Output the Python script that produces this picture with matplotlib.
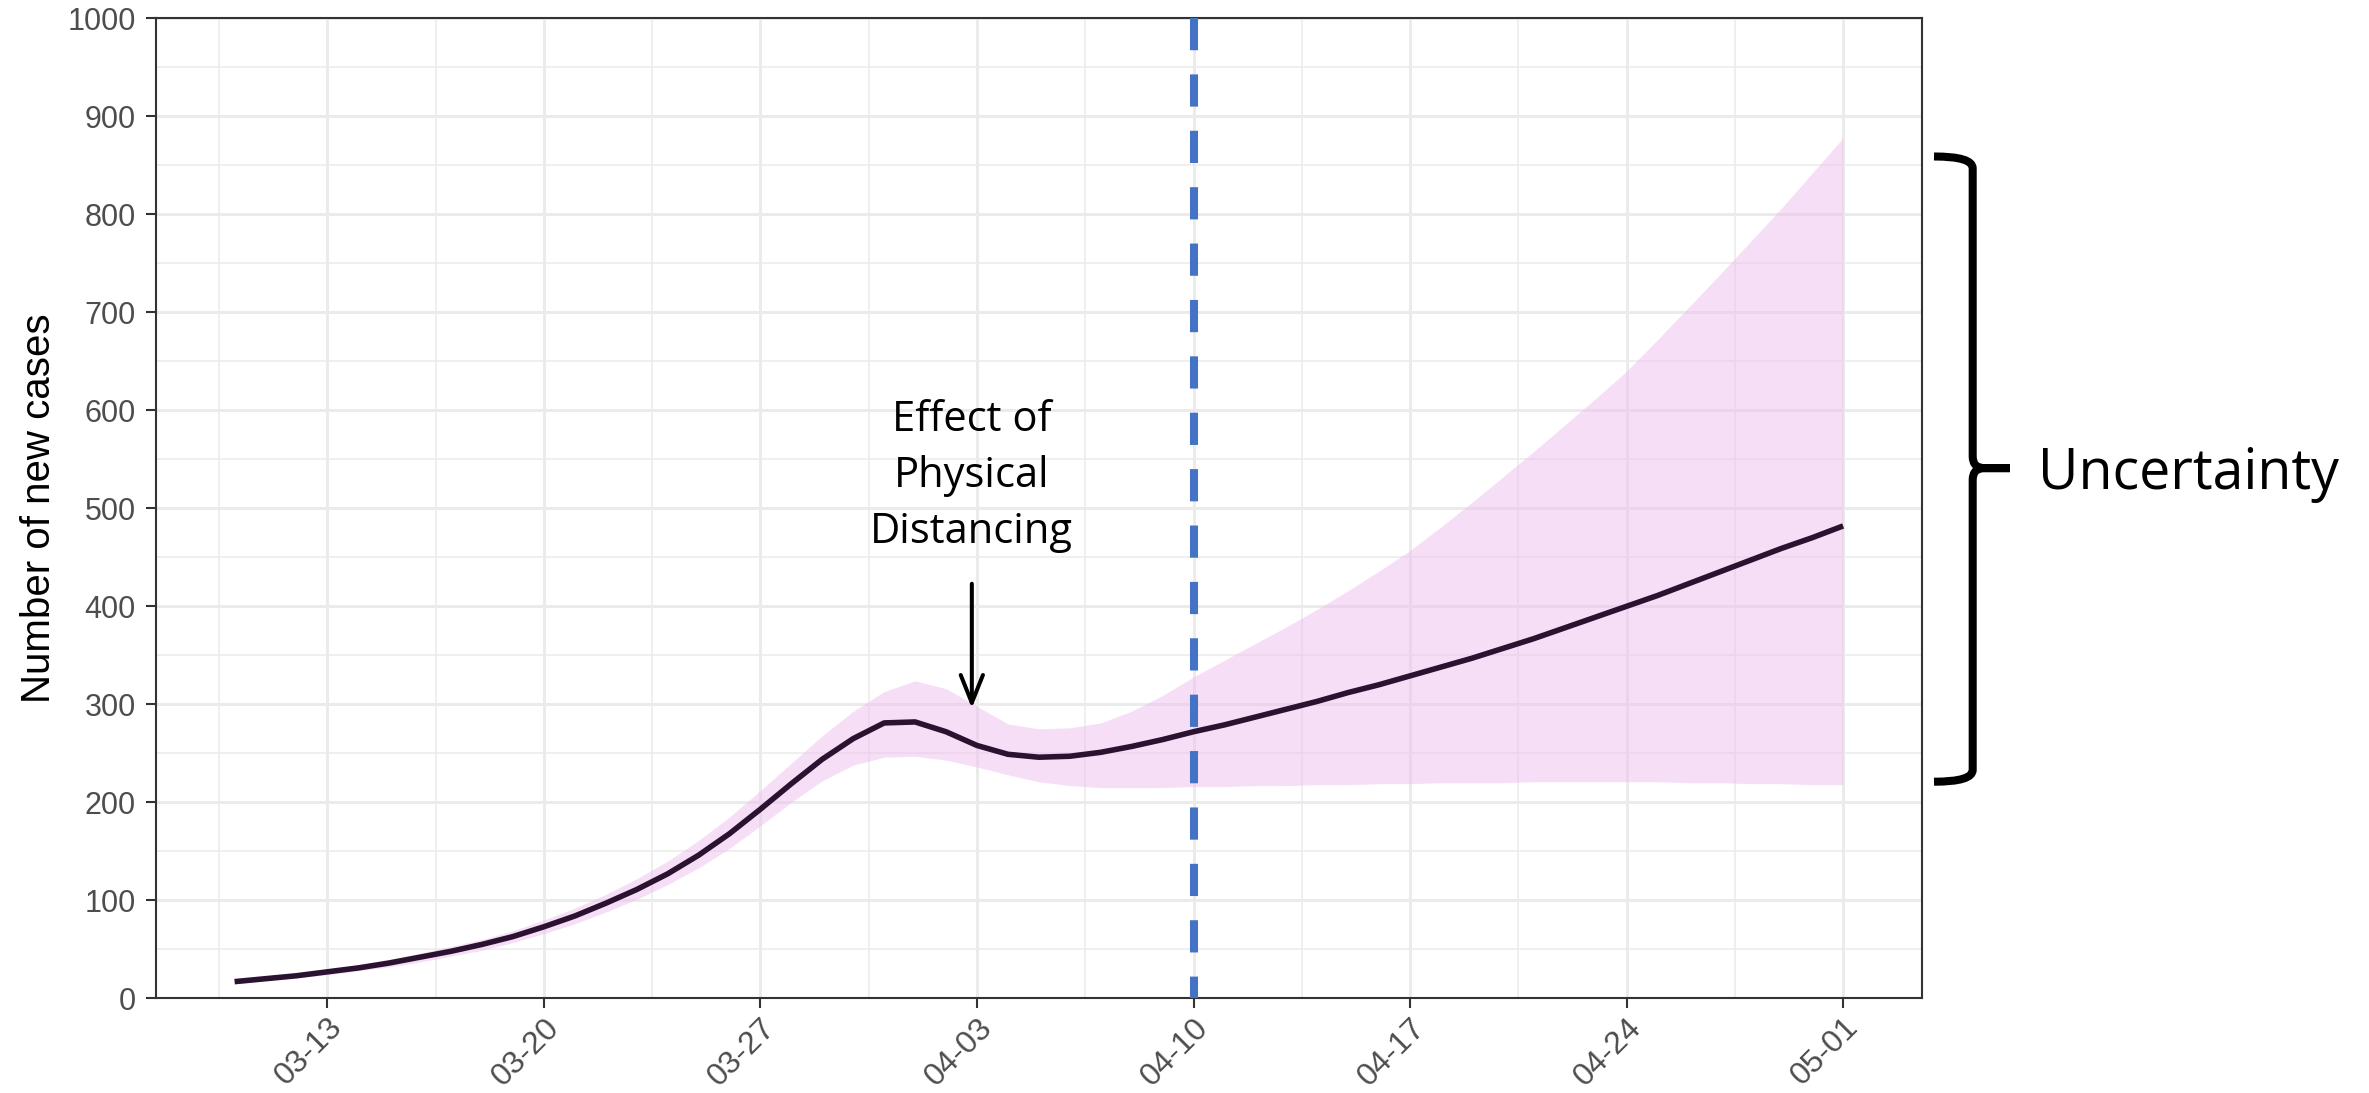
import numpy as np
import pandas as pd
import matplotlib
matplotlib.use("Agg")
import matplotlib.pyplot as plt
import matplotlib.dates as mdates
from matplotlib.path import Path
from matplotlib.patches import PathPatch
from matplotlib.transforms import blended_transform_factory

# ---------------------------------------------------------------------------
# data
# ---------------------------------------------------------------------------
dates = pd.date_range("2020-03-10", "2020-05-01", freq="D")

mean_cases = [
    17, 20, 23, 27, 31, 36, 42, 48, 55, 63,
    73, 84, 97, 111, 127, 146, 168, 193, 219, 244,
    265, 281, 282, 272, 258, 249, 246, 247, 251, 257,
    264, 272, 279, 287, 295, 303, 312, 320, 329, 338,
    347, 357, 367, 378, 389, 400, 411, 423, 435, 447,
    459, 470, 482,
]
upper_cases = [
    19, 22, 26, 30, 34, 40, 46, 53, 60, 69,
    80, 92, 106, 122, 140, 161, 185, 212, 240, 268,
    293, 313, 324, 316, 298, 280, 275, 276, 281, 293,
    309, 328, 345, 362, 379, 397, 416, 436, 457, 481,
    506, 532, 558, 585, 612, 640, 672, 705, 738, 772,
    806, 842, 878,
]
lower_cases = [
    15, 18, 21, 24, 28, 32, 37, 43, 49, 57,
    66, 76, 88, 101, 116, 133, 153, 176, 200, 222,
    238, 246, 247, 243, 236, 228, 221, 217, 215, 215,
    215, 216, 216, 217, 217, 218, 218, 219, 219, 220,
    220, 220, 221, 221, 221, 221, 221, 220, 220, 219,
    219, 218, 218,
]

cutoff_date = pd.Timestamp("2020-04-10")
effect_date = pd.Timestamp("2020-04-02 20:00")
arrow_tail, arrow_tip = 423, 296
effect_text_top = 612
brace_top, brace_mid, brace_bottom = 859, 541, 221

x_major = pd.date_range("2020-03-13", "2020-05-01", freq="7D")
x_minor = pd.date_range("2020-03-09 12:00", "2020-05-01", freq="7D")
y_major = np.arange(0, 1001, 100)
y_minor = np.arange(50, 1000, 100)

# ---------------------------------------------------------------------------
W, H = 2369, 1093
fig = plt.figure(figsize=(W / 100, H / 100), dpi=100)
ax = fig.add_axes([155.7 / W, (H - 998.3) / H, 1766.3 / W, 980.0 / H])

grid_c = "#EBEBEB"
dark = "#333333"

ax.fill_between(dates, lower_cases, upper_cases, color="#EEC0EE", alpha=0.5,
                lw=0, zorder=2)
ax.plot(dates, mean_cases, color="#2B1230", lw=4.0, zorder=3,
        solid_capstyle="butt")
ax.plot([cutoff_date, cutoff_date], [1000, 0], color="#4472C4", lw=5.8,
        dashes=(4, 3), solid_capstyle="butt", dash_capstyle="butt", zorder=4)

pad_days = pd.Timedelta(days=2.55)
ax.set_xlim(dates[0] - pad_days, dates[-1] + pad_days)
ax.set_ylim(0, 1000)

ax.set_xticks(x_major)
ax.set_xticks(x_minor, minor=True)
ax.xaxis.set_major_formatter(mdates.DateFormatter("%m-%d"))
ax.set_yticks(y_major)
ax.set_yticks(y_minor, minor=True)

ax.set_axisbelow(True)
ax.grid(which="major", color=grid_c, lw=2.1)
ax.grid(which="minor", color=grid_c, lw=1.1)

for s in ax.spines.values():
    s.set_color(dark)
    s.set_linewidth(1.5)

ax.tick_params(which="major", length=7.2, width=1.5, color=dark,
               labelcolor="#4D4D4D", labelsize=22)
ax.tick_params(which="minor", length=0)
ax.tick_params(axis="y", pad=7)
ax.tick_params(axis="x", pad=3, labelsize=23)
for lab in ax.get_yticklabels():
    lab.set_family("Liberation Sans")
for lab in ax.get_xticklabels():
    lab.set_family("Liberation Sans")
    lab.set_rotation(45)
    lab.set_ha("right")
    lab.set_va("top")
    lab.set_rotation_mode("anchor")

ax.set_ylabel("Number of new cases", fontsize=29, family="Liberation Sans",
              color="black")
ax.yaxis.set_label_coords(-0.0553, 0.5)

# annotation: effect of physical distancing
ax.text(effect_date, effect_text_top, "Effect of\nPhysical\nDistancing",
        ha="center", va="top", fontsize=30, family="Open Sans",
        linespacing=1.45, color="black", zorder=5)
ax.annotate("", xy=(effect_date, arrow_tip), xytext=(effect_date, arrow_tail),
            arrowprops=dict(arrowstyle="->,head_length=1.0,head_width=0.4",
                            lw=2.9, color="black", mutation_scale=20,
                            shrinkA=0, shrinkB=0), zorder=5)

# uncertainty brace outside the panel
bt = blended_transform_factory(ax.transAxes, ax.transData)
x_tip, x_stem, x_cusp = 1.0068, 1.0287, 1.0498
r_x, r_y = 0.0068, 12
upper = Path(
    [(x_tip, brace_top), (x_stem, brace_top), (x_stem, brace_top - r_y),
     (x_stem, brace_mid + r_y), (x_stem, brace_mid),
     (x_stem + r_x, brace_mid), (x_cusp, brace_mid)],
    [Path.MOVETO, Path.CURVE3, Path.CURVE3, Path.LINETO, Path.CURVE3,
     Path.CURVE3, Path.LINETO])
lower = Path(
    [(x_cusp, brace_mid), (x_stem + r_x, brace_mid), (x_stem, brace_mid),
     (x_stem, brace_mid - r_y), (x_stem, brace_bottom + r_y),
     (x_stem, brace_bottom), (x_tip, brace_bottom)],
    [Path.MOVETO, Path.LINETO, Path.CURVE3, Path.CURVE3, Path.LINETO,
     Path.CURVE3, Path.CURVE3])
for p in (upper, lower):
    ax.add_patch(PathPatch(p, transform=bt, fill=False, lw=5.8,
                           color="black", clip_on=False,
                           capstyle="butt", joinstyle="round"))

ax.text(1.0657, 520, "Uncertainty", transform=bt, ha="left", va="baseline",
        fontsize=40, family="Open Sans", color="black", clip_on=False)

fig.savefig("out.png", dpi=100)
